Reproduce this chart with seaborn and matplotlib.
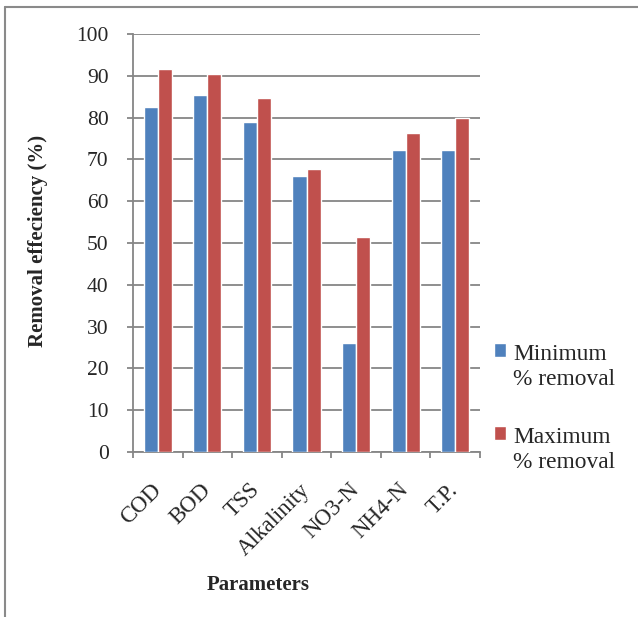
import matplotlib
matplotlib.use("Agg")
import matplotlib.pyplot as plt
import matplotlib.patches as mpatches
import matplotlib.transforms as mtransforms
from matplotlib.lines import Line2D
from matplotlib.legend_handler import HandlerPatch
import seaborn as sns
import pandas as pd
import numpy as np

# 数据
parameters = ['COD', 'BOD', 'TSS', 'Alkalinity', 'NO3-N', 'NH4-N', 'T.P.']
min_removal = [82.5, 85.3, 79.0, 66.0, 26.0, 72.2, 72.3]
max_removal = [91.7, 90.5, 84.7, 67.6, 51.4, 76.2, 79.9]
series_names = ['Minimum\n% removal', 'Maximum\n% removal']
series_colors = ['#4F81BD', '#C0504D']
y_ticks = [0, 10, 20, 30, 40, 50, 60, 70, 80, 90, 100]

sns.set_style("white")
plt.rcParams['font.family'] = ['Liberation Serif', 'DejaVu Serif']

df = pd.DataFrame({
    'Parameter': parameters * 2,
    'Value': min_removal + max_removal,
    'Series': [series_names[0]] * len(parameters) + [series_names[1]] * len(parameters),
})

fig = plt.figure(figsize=(6.38, 6.17), dpi=100)
ax = fig.add_axes([133 / 638, 1 - 452 / 617, 347 / 638, 418 / 617])

sns.barplot(data=df, x='Parameter', y='Value', hue='Series',
            palette=series_colors, saturation=1, width=0.57,
            errorbar=None, ax=ax, zorder=3)

grid_c = '#868686'
ax.set_ylim(0, 100)
ax.set_xlim(-0.5, len(parameters) - 0.5)
ax.set_yticks(y_ticks)
ax.yaxis.grid(True, color=grid_c, linewidth=1.3, zorder=0)
ax.set_axisbelow(True)

# x 轴刻度：主刻度在分类边界，标签放在次刻度
ax.set_xticks(np.arange(-0.5, len(parameters), 1.0))
ax.set_xticklabels([])
ax.set_xticks(np.arange(len(parameters)), minor=True)
ax.set_xticklabels(parameters, minor=True, rotation=45, ha='right', va='center',
                   rotation_mode='anchor', fontsize=16.5)
ax.tick_params(axis='x', which='major', length=4.5, width=1.3, color=grid_c, direction='out', bottom=True)
ax.tick_params(axis='x', which='minor', length=0, pad=25)
ax.tick_params(axis='y', length=4.5, width=1.3, color=grid_c, direction='out', left=True,
               labelsize=15.5, pad=13)

offset = mtransforms.ScaledTranslation(0, 0, fig.dpi_scale_trans)
for lab in ax.get_xticklabels(minor=True):
    lab.set_transform(lab.get_transform() + offset)

for side in ['top', 'right']:
    ax.spines[side].set_visible(False)
for side in ['left', 'bottom']:
    ax.spines[side].set_color(grid_c)
    ax.spines[side].set_linewidth(1.3)

ax.set_xlabel('Parameters', fontsize=15, fontweight='bold')
ax.xaxis.set_label_coords(0.36, -0.318)
ax.xaxis.label.set_va('center')
ax.set_ylabel('Removal effeciency (%)', fontsize=15, fontweight='bold')
ax.yaxis.set_label_coords(-0.274, 0.505)
ax.yaxis.label.set_va('center')

# 图例
handles, labels = ax.get_legend_handles_labels()
ax.get_legend().remove()


def square_first_line(legend, orig_handle, xdescent, ydescent, width, height, fontsize):
    return mpatches.Rectangle((-xdescent, -ydescent + 0.72 * fontsize), width, height)


leg = fig.legend(handles, labels, loc='upper left', bbox_to_anchor=(494 / 638, 1 - 344 / 617),
                 frameon=False, fontsize=16.8, handlelength=0.52, handleheight=0.52,
                 handletextpad=0.3, labelspacing=1.6, borderpad=0, borderaxespad=0,
                 handler_map={mpatches.Rectangle: HandlerPatch(patch_func=square_first_line)})
for t in leg.get_texts():
    t.set_linespacing(1.25)

# 外框线（左、上）
fig.add_artist(Line2D([5 / 638, 5 / 638], [0, 1 - 7 / 617], transform=fig.transFigure,
                      color='#8a8a8a', linewidth=1.5))
fig.add_artist(Line2D([5 / 638, 1], [1 - 7 / 617, 1 - 7 / 617], transform=fig.transFigure,
                      color='#8a8a8a', linewidth=1.5))

fig.savefig('out.png', dpi=100)
